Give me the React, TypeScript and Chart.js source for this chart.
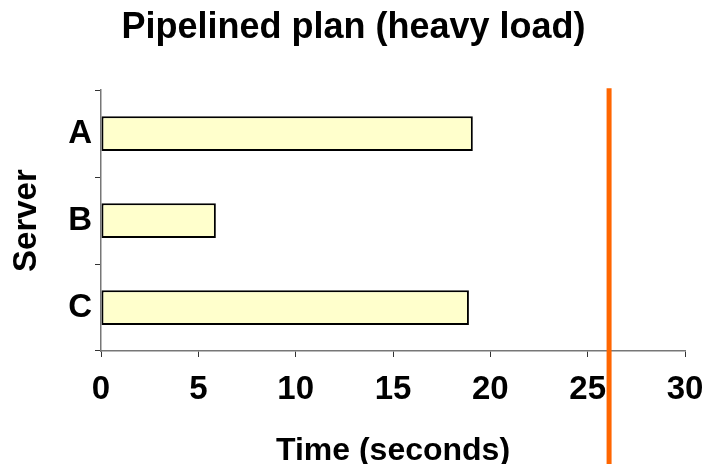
import React, { useEffect, useRef } from "react";
import { Chart, registerables } from "chart.js";

Chart.register(...registerables);

// Per-server completion times (seconds)
const servers = ["A", "B", "C"];
const durations = [19.1, 5.9, 18.9];
// Deadline marker (seconds)
const deadlineSeconds = 26.1;
// Time axis range
const timeMin = 0;
const timeMax = 30;
const timeStep = 5;

const FONT = "'Liberation Sans', Arial, Helvetica, sans-serif";

const deadlinePlugin = {
  id: "deadlineLine",
  afterDraw(chart: any) {
    const { ctx, chartArea, scales } = chart;
    const x = scales.x.getPixelForValue(deadlineSeconds);
    ctx.save();
    ctx.strokeStyle = "#FF6600";
    ctx.lineWidth = 5;
    ctx.beginPath();
    ctx.moveTo(x, chartArea.top - 2);
    ctx.lineTo(x, chart.height);
    ctx.stroke();
    ctx.restore();
  },
};

export default function App() {
  const canvasRef = useRef<HTMLCanvasElement | null>(null);

  useEffect(() => {
    if (!canvasRef.current) return;
    const chart = new Chart(canvasRef.current, {
      type: "bar",
      data: {
        labels: servers,
        datasets: [
          {
            data: durations,
            backgroundColor: "#FFFFCC",
            borderColor: "#000000",
            borderWidth: 2,
            borderSkipped: false,
            barPercentage: 0.4,
            categoryPercentage: 1,
          },
        ],
      },
      options: {
        indexAxis: "y",
        responsive: false,
        animation: false,
        devicePixelRatio: 1,
        layout: { padding: 0 },
        plugins: {
          legend: { display: false },
          tooltip: { enabled: false },
          title: {
            display: true,
            text: "Pipelined plan (heavy load)",
            color: "#000000",
            font: { family: FONT, size: 36, weight: "bold", lineHeight: 1.2 },
            padding: { top: 6, bottom: 41 },
          },
        },
        scales: {
          x: {
            type: "linear",
            min: timeMin,
            max: timeMax,
            afterFit(scale: any) {
              scale.height = 113;
              scale.paddingLeft = 0;
              scale.paddingRight = 22;
            },
            ticks: {
              stepSize: timeStep,
              color: "#000000",
              padding: 13,
              font: { family: FONT, size: 33, weight: "bold", lineHeight: 1.2 },
            },
            grid: {
              display: true,
              drawOnChartArea: false,
              drawTicks: true,
              tickLength: 6,
              color: "#333333",
              lineWidth: 1,
            },
            border: { display: true, color: "#777777", width: 1.5 },
            title: {
              display: true,
              text: "Time (seconds)",
              color: "#000000",
              font: { family: FONT, size: 32, weight: "bold", lineHeight: 1 },
              padding: { top: 0, bottom: -3 },
            },
          },
          y: {
            type: "category",
            offset: true,
            afterFit(scale: any) {
              scale.width = 101;
            },
            ticks: {
              color: "#000000",
              padding: 3,
              font: { family: FONT, size: 33, weight: "bold", lineHeight: 1.2 },
            },
            grid: {
              display: true,
              offset: true,
              drawOnChartArea: false,
              drawTicks: true,
              tickLength: 6,
              color: "#333333",
              lineWidth: 1,
            },
            border: { display: true, color: "#777777", width: 1.5 },
            title: {
              display: true,
              text: "Server",
              color: "#000000",
              font: { family: FONT, size: 33, weight: "bold", lineHeight: 1.2 },
              padding: { top: 7, bottom: 0 },
            },
          },
        },
      },
      plugins: [deadlinePlugin],
    } as any);
    return () => chart.destroy();
  }, []);

  return (
    <div
      style={{
        position: "fixed",
        left: 0,
        top: 0,
        width: 707,
        height: 464,
        background: "#ffffff",
        overflow: "hidden",
      }}
    >
      <canvas ref={canvasRef} width={707} height={464} style={{ display: "block" }} />
    </div>
  );
}
